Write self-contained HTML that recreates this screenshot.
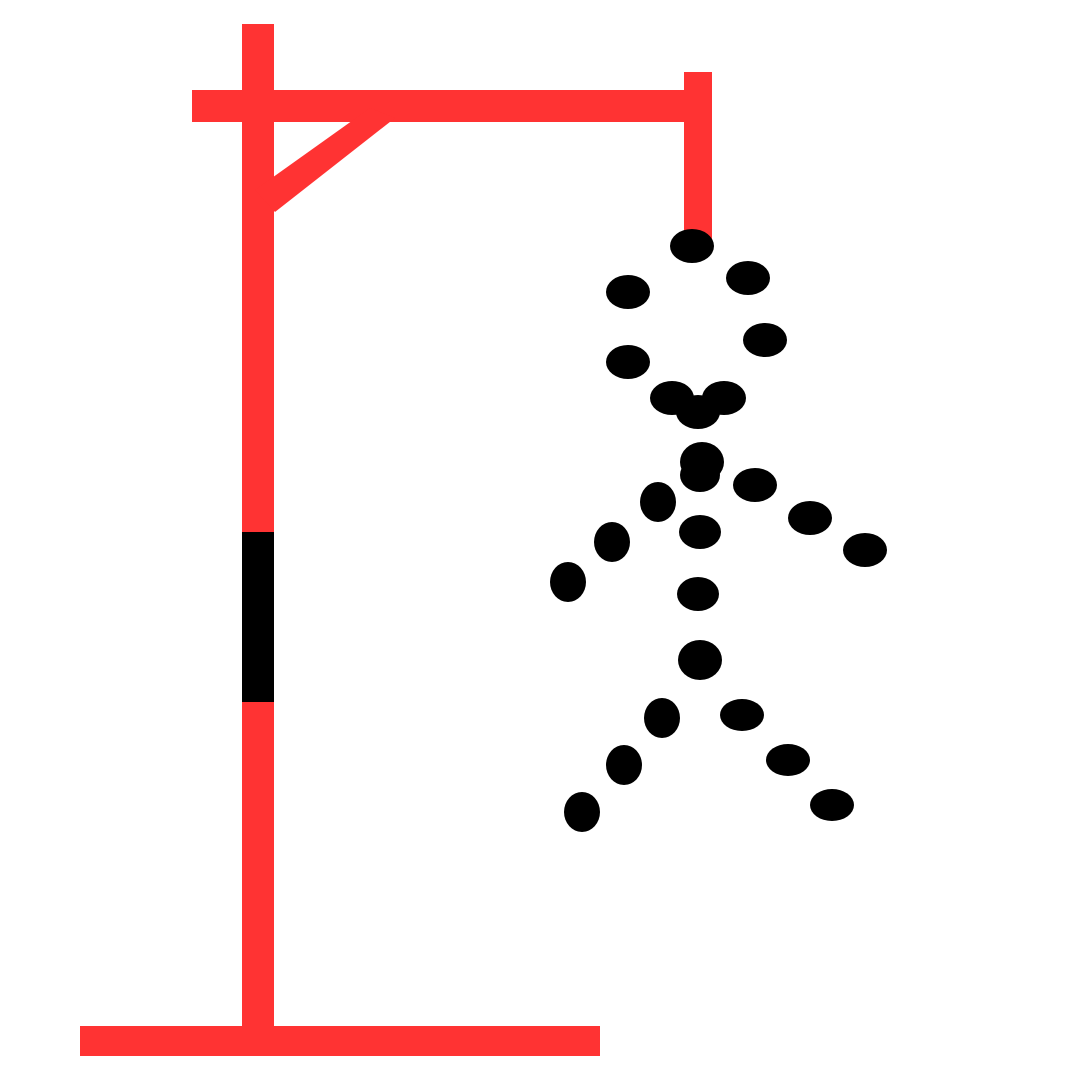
<!DOCTYPE html>
<html><head><meta charset="utf-8"><style>html,body{margin:0;padding:0;background:#fff}svg{display:block}</style></head>
<body>
<svg width="1080" height="1080" viewBox="0 0 1080 1080">
<rect width="1080" height="1080" fill="#fff"/>
<g fill="#ff3333">
<rect x="80" y="1026" width="520" height="30"/>
<rect x="242" y="24" width="32" height="1020"/>
<rect x="192" y="90" width="520" height="32"/>
<polygon points="255,190 370,108 395,118 275,212"/>
<rect x="684" y="72" width="28" height="170"/>
</g>
<rect x="242" y="532" width="32" height="170" fill="#000"/>
<g fill="#000">
<ellipse cx="692" cy="246" rx="22" ry="17"/>
<ellipse cx="628" cy="292" rx="22" ry="17"/>
<ellipse cx="748" cy="278" rx="22" ry="17"/>
<ellipse cx="628" cy="362" rx="22" ry="17"/>
<ellipse cx="765" cy="340" rx="22" ry="17"/>
<ellipse cx="672" cy="398" rx="22" ry="17"/>
<ellipse cx="724" cy="398" rx="22" ry="17"/>
<ellipse cx="698" cy="412" rx="22" ry="17"/>
<ellipse cx="702" cy="462" rx="22" ry="20"/>
<ellipse cx="700" cy="475" rx="20" ry="17"/>
<ellipse cx="700" cy="532" rx="21" ry="17"/>
<ellipse cx="698" cy="594" rx="21" ry="17"/>
<ellipse cx="700" cy="660" rx="22" ry="20"/>
<ellipse cx="658" cy="502" rx="18" ry="20"/>
<ellipse cx="612" cy="542" rx="18" ry="20"/>
<ellipse cx="568" cy="582" rx="18" ry="20"/>
<ellipse cx="755" cy="485" rx="22" ry="17"/>
<ellipse cx="810" cy="518" rx="22" ry="17"/>
<ellipse cx="865" cy="550" rx="22" ry="17"/>
<ellipse cx="662" cy="718" rx="18" ry="20"/>
<ellipse cx="624" cy="765" rx="18" ry="20"/>
<ellipse cx="582" cy="812" rx="18" ry="20"/>
<ellipse cx="742" cy="715" rx="22" ry="16"/>
<ellipse cx="788" cy="760" rx="22" ry="16"/>
<ellipse cx="832" cy="805" rx="22" ry="16"/>
</g>
</svg>
</body></html>
